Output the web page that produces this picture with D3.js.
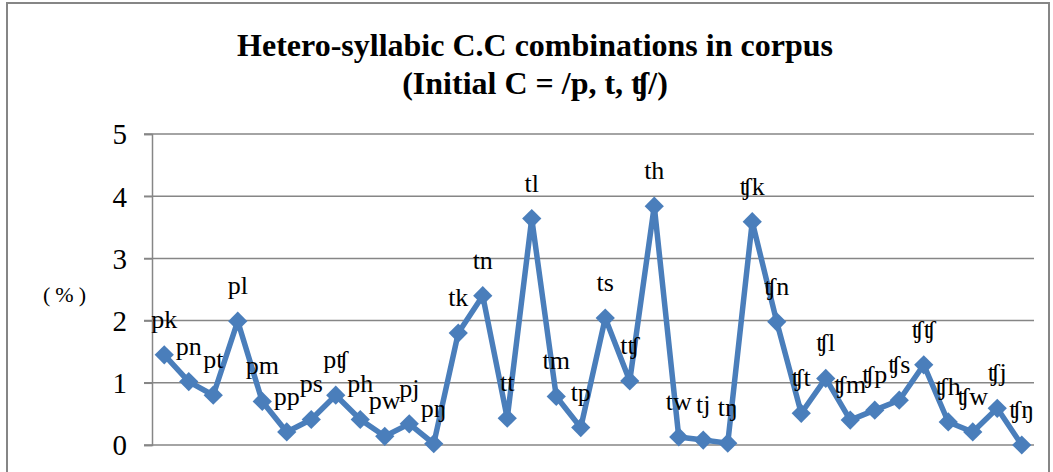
<!DOCTYPE html>
<html>
<head>
<meta charset="utf-8">
<script src="https://cdn.jsdelivr.net/npm/d3@7"></script>
<style>
  body { margin: 0; background: #fff; }
  text { font-family: "Liberation Serif", "Times New Roman", "DejaVu Serif", serif; fill: #000; }
</style>
</head>
<body>
<svg id="chart" width="1053" height="472"></svg>
<script>
// Combinations, in chart order
const combos = [
  'pk', 'pn', 'pt', 'pl', 'pm', 'pp', 'ps', 'pʧ', 'ph', 'pw', 'pj', 'pŋ',
  'tk', 'tn', 'tt', 'tl', 'tm', 'tp', 'ts', 'tʧ', 'th', 'tw', 'tj', 'tŋ',
  'ʧk', 'ʧn', 'ʧt', 'ʧl', 'ʧm', 'ʧp', 'ʧs', 'ʧʧ', 'ʧh', 'ʧw', 'ʧj', 'ʧŋ'
];

// Share in corpus (%)
const percents = [
  1.45, 1.02, 0.80, 1.99, 0.70, 0.21, 0.41, 0.80, 0.41, 0.14, 0.34, 0.02,
  1.80, 2.40, 0.43, 3.64, 0.78, 0.28, 2.04, 1.03, 3.84, 0.13, 0.08, 0.03,
  3.59, 1.98, 0.51, 1.07, 0.40, 0.56, 0.72, 1.29, 0.37, 0.21, 0.59, 0.00
];

const yTicks = [0, 1, 2, 3, 4, 5];
const titleLines = ['Hetero-syllabic C.C combinations in corpus', '(Initial C = /p, t, ʧ/)'];
const yLabel = '(%)';

const data = combos.map((c, i) => ({ combo: c, value: percents[i] }));

const svg = d3.select('#chart');
const blue = '#4a7ebb';
const grey = '#868686';

// chart frame
svg.append('rect')
  .attr('x', 7).attr('y', 3)
  .attr('width', 1042).attr('height', 480)
  .attr('fill', '#fff')
  .attr('stroke', grey)
  .attr('stroke-width', 2);

const x = d3.scaleBand()
  .domain(combos)
  .range([152, 1034]);

const y = d3.scaleLinear()
  .domain([0, 5])
  .range([445, 134]);

// title
svg.append('text')
  .attr('font-size', 32)
  .attr('font-weight', 'bold')
  .attr('text-anchor', 'middle')
  .selectAll('tspan')
  .data(titleLines)
  .enter().append('tspan')
    .attr('x', 535)
    .attr('y', (d, i) => 56 + i * 38)
    .text(d => d);

// gridlines
svg.append('g')
  .selectAll('line')
  .data(yTicks)
  .enter().append('line')
    .attr('x1', 144).attr('x2', 1034)
    .attr('y1', d => y(d)).attr('y2', d => y(d))
    .attr('stroke', grey)
    .attr('stroke-width', 1.5);

// y axis
const yAxis = svg.append('g')
  .attr('transform', 'translate(152,0)')
  .call(d3.axisLeft(y).tickValues(yTicks).tickSize(8).tickPadding(17).tickFormat(d3.format('d')));

yAxis.select('.domain').attr('stroke', grey).attr('stroke-width', 1.5);
yAxis.selectAll('.tick line').attr('stroke', grey).attr('stroke-width', 1.5);
yAxis.selectAll('.tick text')
  .attr('font-size', 29)
  .attr('dy', '0.34em')
  .attr('fill', '#000');

svg.append('text')
  .attr('x', 67).attr('y', 302)
  .attr('font-size', 22)
  .attr('letter-spacing', 5)
  .attr('text-anchor', 'middle')
  .text(yLabel);

const cx = d => x(d.combo) + x.bandwidth() / 2;

// series line
svg.append('path')
  .datum(data)
  .attr('fill', 'none')
  .attr('stroke', blue)
  .attr('stroke-width', 5.5)
  .attr('stroke-linejoin', 'round')
  .attr('d', d3.line().x(cx).y(d => y(d.value)));

// diamond markers
svg.append('g')
  .selectAll('path')
  .data(data)
  .enter().append('path')
    .attr('transform', d => `translate(${cx(d)},${y(d.value)}) rotate(45)`)
    .attr('d', 'M-6.8,-6.8H6.8V6.8H-6.8Z')
    .attr('fill', blue);

// data labels
svg.append('g')
  .selectAll('text')
  .data(data)
  .enter().append('text')
    .attr('x', cx)
    .attr('y', d => y(d.value) - 27)
    .attr('font-size', 26)
    .attr('text-anchor', 'middle')
    .text(d => d.combo);
</script>
</body>
</html>
